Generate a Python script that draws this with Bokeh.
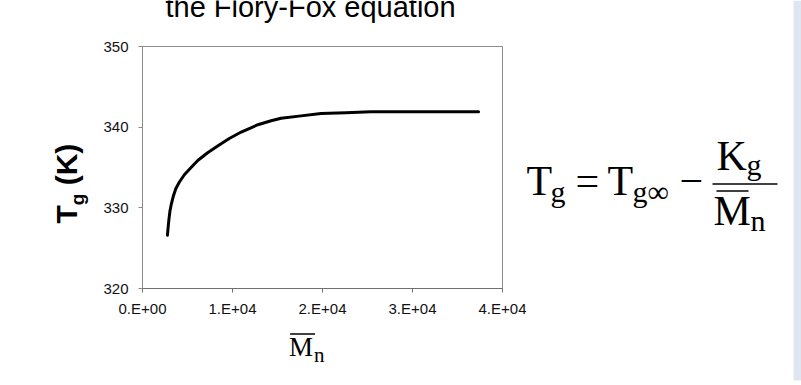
from bokeh.plotting import figure
from bokeh.models import Range1d, FixedTicker
from bokeh.layouts import row, column
from bokeh.embed import file_html
from bokeh.resources import INLINE
from bokeh.core.properties import value

# ---- data ----
title_text = "the Flory-Fox equation"
mn_values = [2770, 2850, 2940, 3050, 3210, 3440, 3710, 4100, 4650, 5320, 6170, 7200,
             8390, 9640, 10970, 12820, 14290, 15400, 17620, 19830, 22600, 25370, 30910, 37340]
tg_values = [326.6, 327.6, 328.6, 329.6, 330.5, 331.5, 332.4, 333.2, 334.1, 334.9, 335.9, 336.8,
             337.7, 338.6, 339.4, 340.3, 340.8, 341.1, 341.4, 341.7, 341.8, 341.9, 341.9, 341.9]
x_ticks = [0, 10000, 20000, 30000, 40000]
x_tick_labels = ["0.E+00", "1.E+04", "2.E+04", "3.E+04", "4.E+04"]
y_ticks = [320, 330, 340, 350]
y_tick_labels = ["320", "330", "340", "350"]

SANS = "Liberation Sans"
SERIF = "Liberation Serif"
AXIS_GRAY = "#8a8a8a"

YL_W = 100          # width of the y-label panel
BR = 24             # chart right border
COL_W = 502 + BR - YL_W  # width of the chart column
BL = 141 - YL_W     # chart left border inside column
EQ_X0 = 502 + BR


def blank(width, height, xr, yr):
    f = figure(width=width, height=height, x_range=Range1d(*xr), y_range=Range1d(*yr),
               output_backend="svg", toolbar_location=None, min_border=0,
               x_axis_location=None, y_axis_location=None)
    f.grid.visible = False
    f.outline_line_color = None
    f.background_fill_color = "white"
    f.border_fill_color = "white"
    return f


def txt(f, x, y, s, size, font=SERIF, style="normal", angle=0, align="left"):
    px = float(size.rstrip("px"))
    if angle == 0:
        k = 0.34 if font == SERIF else 0.29
        xx, yy = x, y - k * px
    else:
        xx, yy = x - 0.54 * px, y
    f.text(x=[xx], y=[yy], text=[s], text_font=value(font), text_font_size=size,
           text_font_style=style, text_baseline="alphabetic", text_align=align,
           text_color="black", angle=angle, angle_units="deg")


# ---- title strip ----
tf = blank(COL_W, 30, (141, 502), (30, 0))
tf.min_border_left = BL
tf.min_border_right = BR
txt(tf, 309.5, 15, title_text, "29px", font=SANS, align="center")

# ---- main chart ----
p = figure(width=COL_W, height=295, x_range=Range1d(0, 40000), y_range=Range1d(320, 350),
           output_backend="svg", toolbar_location=None,
           min_border_left=BL, min_border_right=BR, min_border_top=16, min_border_bottom=37)
p.line(mn_values, tg_values, line_width=3, line_color="black", line_join="round", line_cap="round")
p.grid.visible = False
p.outline_line_color = AXIS_GRAY
p.background_fill_color = "white"
p.border_fill_color = "white"
p.xaxis.ticker = FixedTicker(ticks=x_ticks)
p.xaxis.major_label_overrides = {t: l for t, l in zip(x_ticks, x_tick_labels)}
p.yaxis.ticker = FixedTicker(ticks=y_ticks)
p.yaxis.major_label_overrides = {t: l for t, l in zip(y_ticks, y_tick_labels)}
for ax in (p.xaxis[0], p.yaxis[0]):
    ax.axis_line_color = AXIS_GRAY
    ax.major_tick_line_color = AXIS_GRAY
    ax.minor_tick_line_color = None
    ax.major_tick_in = 0
    ax.major_tick_out = 4
    ax.major_label_text_font = SANS
    ax.major_label_text_font_size = "15px"
    ax.major_label_text_color = "#111111"
p.xaxis.axis_line_color = "#707070"
p.xaxis.major_tick_line_color = "#707070"
p.xaxis.major_label_standoff = 7
p.yaxis.major_label_standoff = 10

# ---- x axis label strip (M-bar subscript n) ----
xl = blank(COL_W, 60, (141, 502), (385, 325))
xl.min_border_left = BL
xl.min_border_right = BR
txt(xl, 288, 356, "M", "27px")
txt(xl, 313, 362, "n", "21px")
xl.segment(x0=[289], y0=[333.5], x1=[314], y1=[333.5], line_color="black", line_width=1.3)

# ---- y axis label panel: T_g (K) rotated ----
yl = blank(YL_W, 385, (0, YL_W), (385, 0))
txt(yl, 82, 223, "T", "30px", font=SANS, style="bold", angle=90)
txt(yl, 87, 204.7, "g", "19px", font=SANS, style="bold", angle=90)
txt(yl, 82, 184.8, "(K)", "30px", font=SANS, style="bold", angle=90)

# ---- equation panel ----
eq = blank(801 - EQ_X0, 385, (EQ_X0, 801), (385, 0))
for s, x, y in [("T", 526, 195), ("=", 575, 195), ("T", 607, 195), ("\u2212", 679, 195),
                ("K", 716, 170), ("M", 713, 225)]:
    txt(eq, x, y, s, "42px")
for s, x, y in [("g", 550, 201), ("g\u221e", 632, 201), ("g", 746, 174), ("n", 750, 230)]:
    txt(eq, x, y, s, "30px")
eq.segment(x0=[712, 716], y0=[183.5, 190.5], x1=[777, 748], y1=[183.5, 190.5],
           line_color="black", line_width=1.6)
eq.quad(left=[793], right=[801], top=[0], bottom=[380], fill_color="#dfe6ef", line_color=None)

layout = row(yl, column(tf, p, xl), eq)
open("out.html", "w").write(file_html(layout, INLINE))
